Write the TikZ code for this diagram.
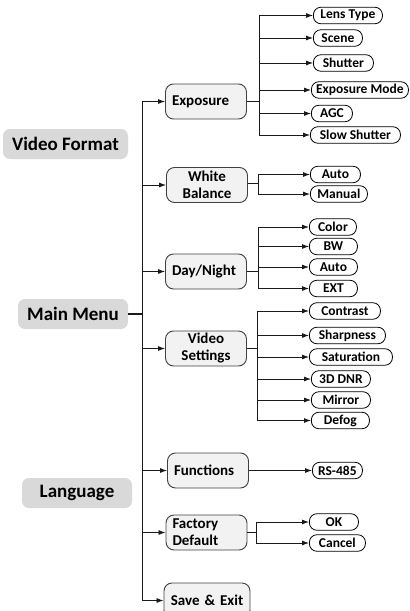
\documentclass[tikz,border=0pt]{standalone}
\usepackage{fontspec}
\setmainfont{Carlito}
\usetikzlibrary{arrows.meta}
\definecolor{topfill}{HTML}{D9D9D9}
\definecolor{midfill}{HTML}{F2F2F2}
\definecolor{midline}{HTML}{404040}
\definecolor{conn}{HTML}{1A1A1A}
\tikzset{
  topbox/.style={fill=topfill, rounded corners=7pt, minimum height=30pt, inner sep=0pt,
    font=\bfseries\fontsize{19}{21}\selectfont},
  midbox/.style={draw=midline, fill=midfill, line width=0.9pt, rounded corners=8pt,
    minimum width=81pt, minimum height=35pt, inner xsep=6.5pt, inner ysep=0pt, text width=68pt,
    font=\bfseries\fontsize{15}{17}\selectfont},
  leafbox/.style={draw=black, fill=white, line width=0.8pt, rounded corners=7.5pt,
    minimum height=16.5pt, inner xsep=0pt, inner ysep=0pt, anchor=west,
    font=\bfseries\fontsize{13.5}{15}\selectfont},
  link/.style={draw=conn, line width=0.8pt},
  arr/.style={link, -{Latex[length=7pt,width=5pt]}},
  trunk/.style={draw=conn, line width=1pt}
}
\begin{document}
\begin{tikzpicture}[x=1pt,y=-1pt]
\path[clip] (0,0) rectangle (410,611);
\useasboundingbox (0,0) rectangle (410,611);
% top-level
\node[topbox, minimum width=125pt] (vf) at (65.5,144) {Video Format};
\node[topbox, minimum width=110pt] (mm) at (73,314) {Main Menu};
\node[topbox, minimum width=110pt] (lang) at (77,493) {Language};
% level 1
\node[midbox, align=left] (exp) at (206,101.5) {Exposure};
\node[midbox, align=center] (wb) at (207,185) {White\\Balance};
\node[midbox, align=left] (dn) at (206,271.5) {Day/Night};
\node[midbox, align=center] (vs) at (206,348.5) {Video\\Settings};
\node[midbox, align=left] (func) at (208,470.5) {Functions};
\node[midbox, align=left] (fd) at (206.5,532.5) {Factory\\Default};
\node[midbox, align=center, minimum width=86pt, text width=73pt] (save) at (207,600.5) {Save \& Exit};
% leaves: exposure
\node[leafbox, minimum width=69pt] (lens) at (313,15.5) {Lens Type};
\node[leafbox, minimum width=49pt] (scene) at (313,38) {Scene};
\node[leafbox, minimum width=60pt] (shut) at (313,63) {Shutter};
\node[leafbox, minimum width=97pt] (emode) at (311,90) {Exposure Mode};
\node[leafbox, minimum width=41pt] (agc) at (311,113.5) {AGC};
\node[leafbox, minimum width=90pt] (slow) at (310,135) {Slow Shutter};
% white balance
\node[leafbox, minimum width=50pt] (wbauto) at (310,174.5) {Auto};
\node[leafbox, minimum width=57pt] (manual) at (310,194) {Manual};
% day/night
\node[leafbox, minimum width=47pt] (color) at (309,227) {Color};
\node[leafbox, minimum width=48pt] (bw) at (309,246.5) {BW};
\node[leafbox, minimum width=48pt] (dnauto) at (309,267) {Auto};
\node[leafbox, minimum width=48pt] (ext) at (309,288.5) {EXT};
% video settings
\node[leafbox, minimum width=71pt] (contrast) at (309,311) {Contrast};
\node[leafbox, minimum width=76pt] (sharp) at (309,335.5) {Sharpness};
\node[leafbox, minimum width=83pt] (sat) at (309,357) {Saturation};
\node[leafbox, minimum width=59pt] (dnr) at (311,379) {3D DNR};
\node[leafbox, minimum width=59pt] (mirror) at (311,400) {Mirror};
\node[leafbox, minimum width=58pt] (defog) at (311,420.5) {Defog};
% functions
\node[leafbox, minimum width=50pt] (rs) at (312,470.5) {RS-485};
% factory default
\node[leafbox, minimum width=49pt] (ok) at (309,522) {OK};
\node[leafbox, minimum width=56pt] (cancel) at (309,543) {Cancel};
% trunk
\coordinate (t) at (142,314);
\path[trunk] (t |- exp) -- (t |- save);
\path[trunk, line width=1.6pt] (mm.east) -- (t);
\foreach \n in {exp,wb,dn,vs,func,fd,save} \path[arr] (t |- \n) -- (\n.west);
% exposure bar
\coordinate (eb) at (259,101.5);
\path[link] (exp.east) -- (eb);
\path[link] (eb |- lens) -- (eb |- slow);
\foreach \n in {lens,scene,shut,emode,agc,slow} \path[arr] (eb |- \n.west) -- (\n.west);
% white balance bar
\coordinate (wbb) at (258,183);
\path[link] (wb.east |- wbb) -- (wbb);
\path[link] (wbb |- wbauto) -- (wbb |- manual);
\foreach \n in {wbauto,manual} \path[arr] (wbb |- \n.west) -- (\n.west);
% day/night bar
\coordinate (dnb) at (258,271.5);
\path[link] (dn.east) -- (dnb);
\path[link] (dnb |- color) -- (dnb |- ext);
\foreach \n in {color,bw,dnauto,ext} \path[arr] (dnb |- \n.west) -- (\n.west);
% video settings bar
\coordinate (vsb) at (257,348.5);
\path[link] (vs.east) -- (vsb);
\path[link] (vsb |- contrast) -- (vsb |- defog);
\foreach \n in {contrast,sharp,sat,dnr,mirror,defog} \path[arr] (vsb |- \n.west) -- (\n.west);
% functions
\path[arr] (func.east |- rs) -- (rs.west);
% factory default bar
\coordinate (fdb) at (256,532.5);
\path[link] (fd.east) -- (fdb);
\path[link] (fdb |- ok) -- (fdb |- cancel);
\foreach \n in {ok,cancel} \path[arr] (fdb |- \n.west) -- (\n.west);
\end{tikzpicture}
\end{document}
